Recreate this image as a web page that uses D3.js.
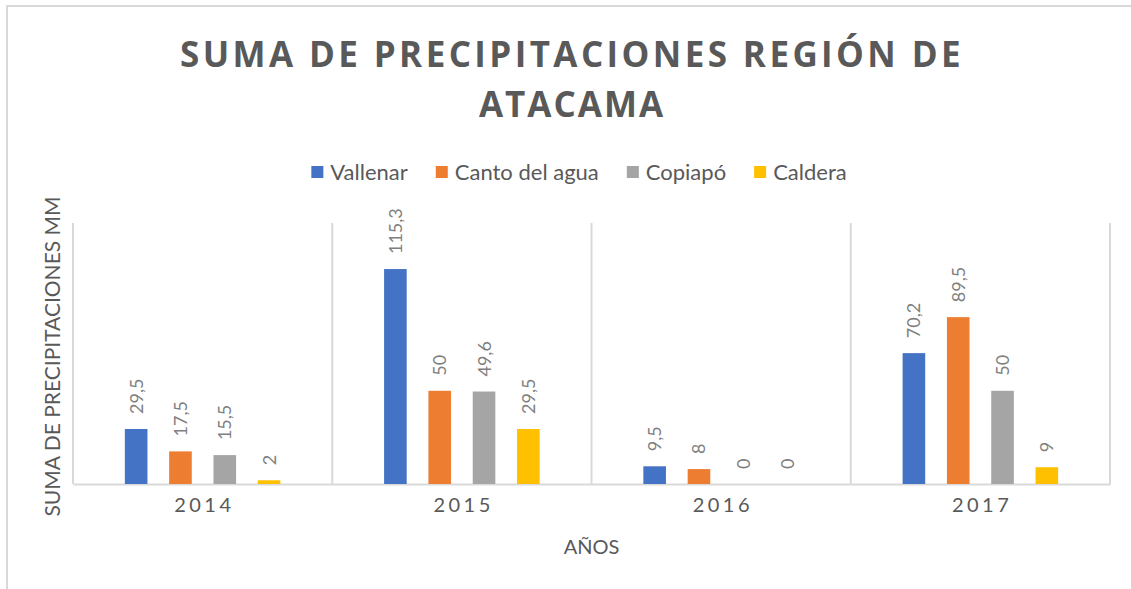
<!DOCTYPE html>
<html>
<head>
<meta charset="utf-8">
<script src="https://cdn.jsdelivr.net/npm/d3@7"></script>
<style>
  body { margin: 0; background: #fff; }
  svg { display: block; }
</style>
</head>
<body>
<svg id="chart" width="1131" height="589"></svg>
<script>
// data
const years = ["2014", "2015", "2016", "2017"];
const stations = ["Vallenar", "Canto del agua", "Copiapó", "Caldera"];
const vallenar = [29.5, 115.3, 9.5, 70.2];
const cantoDelAgua = [17.5, 50, 8, 89.5];
const copiapo = [15.5, 49.6, 0, 50];
const caldera = [2, 29.5, 0, 9];
const colors = ["#4472C4", "#ED7D31", "#A5A5A5", "#FFC000"];
const yMax = 140;

const seriesValues = [vallenar, cantoDelAgua, copiapo, caldera];
const rows = years.map((yr, i) => ({
  year: yr,
  values: stations.map((s, j) => ({ station: s, value: seriesValues[j][i] }))
}));

const svg = d3.select("#chart");
const margin = { top: 223, right: 21, bottom: 105, left: 73 };
const width = +svg.attr("width");
const height = +svg.attr("height");
const chartWidth = width - margin.left - margin.right;
const chartHeight = height - margin.top - margin.bottom;

const txtGray = "#595959";
const lineGray = "#d9d9d9";
const bodyFont = "Lato, 'Open Sans', sans-serif";

// outer frame (only top / left edges are visible in the shot)
svg.append("path")
  .attr("d", "M7,589 V6 H1131")
  .attr("fill", "none")
  .attr("stroke", lineGray)
  .attr("stroke-width", 2);

// title
const title = svg.append("text")
  .attr("text-anchor", "middle")
  .style("font-family", "'Open Sans', sans-serif")
  .style("font-weight", "bold")
  .style("font-size", "35px")
  .style("letter-spacing", "3.4px")
  .attr("fill", txtGray);
title.append("tspan").attr("x", 572).attr("y", 67).text("SUMA DE PRECIPITACIONES REGIÓN DE");
title.append("tspan").attr("x", 572).attr("y", 117).style("letter-spacing", "2px").text("ATACAMA");

// scales
const x0 = d3.scaleBand().domain(years).range([0, chartWidth]).padding(0);
const x1 = d3.scaleBand().domain(stations).range([0, x0.bandwidth()])
  .paddingInner(0.49).paddingOuter(1.17);
const y = d3.scaleLinear().domain([0, yMax]).range([chartHeight, 0]);
const color = d3.scaleOrdinal().domain(stations).range(colors);

const chart = svg.append("g")
  .attr("transform", `translate(${margin.left},${margin.top})`);

// vertical separators between the years
const bounds = years.map(d => x0(d)).concat([x0.range()[1]]);
chart.selectAll("line.sep")
  .data(bounds)
  .join("line")
  .attr("class", "sep")
  .attr("x1", d => d).attr("x2", d => d)
  .attr("y1", 0).attr("y2", chartHeight)
  .attr("stroke", lineGray)
  .attr("stroke-width", 2);

// x axis
const xAxis = chart.append("g")
  .attr("transform", `translate(0,${chartHeight})`)
  .call(d3.axisBottom(x0).tickSize(0).tickPadding(14));
xAxis.select(".domain").attr("stroke", lineGray).attr("stroke-width", 2);
xAxis.selectAll("text")
  .attr("fill", txtGray)
  .style("font-family", bodyFont)
  .style("font-size", "20px")
  .style("letter-spacing", "3.5px")
  .attr("dx", "1.75px");

// bars
const groups = chart.selectAll("g.year")
  .data(rows)
  .join("g")
  .attr("class", "year")
  .attr("transform", d => `translate(${x0(d.year)},0)`);

groups.selectAll("rect")
  .data(d => d.values)
  .join("rect")
  .attr("x", d => x1(d.station))
  .attr("y", d => y(d.value))
  .attr("width", x1.bandwidth())
  .attr("height", d => chartHeight - y(d.value))
  .attr("fill", d => color(d.station));

// rotated value labels
groups.selectAll("text.label")
  .data(d => d.values)
  .join("text")
  .attr("class", "label")
  .attr("transform", d => `translate(${x1(d.station) + x1.bandwidth() / 2},${y(d.value) - 15}) rotate(-90)`)
  .attr("dy", "0.36em")
  .attr("text-anchor", "start")
  .attr("fill", "#7f7f7f")
  .style("font-family", bodyFont)
  .style("font-size", "18px")
  .text(d => String(d.value).replace(".", ","));

// axis titles
svg.append("text")
  .attr("x", margin.left + chartWidth / 2)
  .attr("y", 554)
  .attr("text-anchor", "middle")
  .attr("fill", txtGray)
  .style("font-family", bodyFont)
  .style("font-size", "20px")
  .text("AÑOS");

svg.append("text")
  .attr("transform", `translate(60,${margin.top + chartHeight / 2 + 3}) rotate(-90)`)
  .attr("text-anchor", "middle")
  .attr("fill", txtGray)
  .style("font-family", bodyFont)
  .style("font-size", "21px")
  .text("SUMA DE PRECIPITACIONES MM");

// legend, laid out from the measured text widths
const legend = svg.append("g");
const items = legend.selectAll("g")
  .data(stations)
  .join("g");
items.append("rect")
  .attr("y", 166)
  .attr("width", 12)
  .attr("height", 12)
  .attr("fill", d => color(d));
items.append("text")
  .attr("x", 19)
  .attr("y", 180)
  .attr("fill", txtGray)
  .style("font-family", bodyFont)
  .style("font-size", "22px")
  .text(d => d);

let cursor = 0;
items.each(function() {
  const w = d3.select(this).select("text").node().getComputedTextLength();
  d3.select(this).attr("transform", `translate(${cursor},0)`);
  cursor += 19 + w + 28;
});
const legendWidth = cursor - 28;
legend.attr("transform", `translate(${579 - legendWidth / 2},0)`);
</script>
</body>
</html>
